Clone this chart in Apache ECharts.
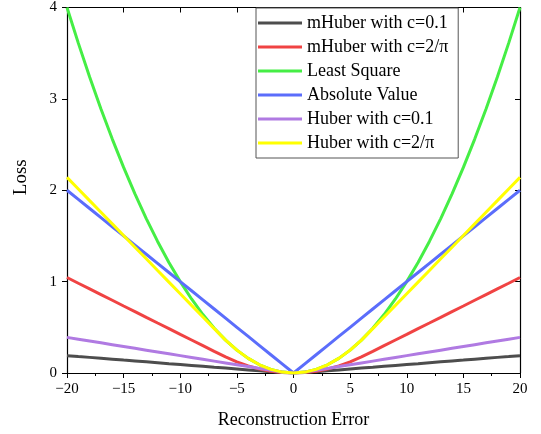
<!DOCTYPE html>
<html>
<head>
<meta charset="utf-8">
<script src="https://cdn.jsdelivr.net/npm/echarts@6/dist/echarts.min.js"></script>
<style>
  html, body { margin: 0; padding: 0; background: #fff; }
  #chart { width: 541px; height: 434px; }
</style>
</head>
<body>
<div id="chart"></div>
<script>
// Reconstruction error samples
const xs = [-20,-19,-18,-17,-16,-15,-14,-13,-12,-11,-10,-9,-8,-7,-6,-5,-4,-3,-2,-1,0,
            1,2,3,4,5,6,7,8,9,10,11,12,13,14,15,16,17,18,19,20];

const mHuber01 = [0.190,0.180,0.171,0.161,0.151,0.141,0.132,0.122,0.112,0.102,0.093,0.083,0.073,0.063,0.054,0.044,0.034,0.024,0.015,0.005,0,
                  0.005,0.015,0.024,0.034,0.044,0.054,0.063,0.073,0.083,0.093,0.102,0.112,0.122,0.132,0.141,0.151,0.161,0.171,0.180,0.190];
const mHuber2pi = [1.045,0.982,0.920,0.858,0.796,0.733,0.672,0.609,0.547,0.486,0.423,0.361,0.299,0.237,0.176,0.122,0.078,0.044,0.020,0.005,0,
                   0.005,0.020,0.044,0.078,0.122,0.176,0.237,0.299,0.361,0.423,0.486,0.547,0.609,0.672,0.733,0.796,0.858,0.920,0.982,1.045];
const leastSquare = [4,3.61,3.24,2.89,2.56,2.25,1.96,1.69,1.44,1.21,1,0.81,0.64,0.49,0.36,0.25,0.16,0.09,0.04,0.01,0,
                     0.01,0.04,0.09,0.16,0.25,0.36,0.49,0.64,0.81,1,1.21,1.44,1.69,1.96,2.25,2.56,2.89,3.24,3.61,4];
const absoluteValue = [2,1.9,1.8,1.7,1.6,1.5,1.4,1.3,1.2,1.1,1,0.9,0.8,0.7,0.6,0.5,0.4,0.3,0.2,0.1,0,
                       0.1,0.2,0.3,0.4,0.5,0.6,0.7,0.8,0.9,1,1.1,1.2,1.3,1.4,1.5,1.6,1.7,1.8,1.9,2];
const huber01 = [0.39,0.37,0.35,0.33,0.31,0.29,0.27,0.25,0.23,0.21,0.19,0.17,0.15,0.13,0.11,0.09,0.07,0.05,0.03,0.01,0,
                 0.01,0.03,0.05,0.07,0.09,0.11,0.13,0.15,0.17,0.19,0.21,0.23,0.25,0.27,0.29,0.31,0.33,0.35,0.37,0.39];
const huber2pi = [2.141,2.014,1.886,1.759,1.632,1.504,1.377,1.250,1.122,0.995,0.868,0.740,0.613,0.486,0.36,0.25,0.16,0.09,0.04,0.01,0,
                  0.01,0.04,0.09,0.16,0.25,0.36,0.486,0.613,0.740,0.868,0.995,1.122,1.250,1.377,1.504,1.632,1.759,1.886,2.014,2.141];

const seriesNames = ['mHuber with c=0.1','mHuber with c=2/\u03c0','Least Square','Absolute Value','Huber with c=0.1','Huber with c=2/\u03c0'];
const seriesValues = [mHuber01, mHuber2pi, leastSquare, absoluteValue, huber01, huber2pi];
const seriesColors = ['#4d4d4d','#f04343','#45ee45','#5b6dfb','#b07ae2','#ffff00'];

const xTicks = { min: -20, max: 20, interval: 5 };
const yTicks = { min: 0, max: 4, interval: 1 };

const FONT = "'Times New Roman', 'Liberation Serif', serif";

const chart = echarts.init(document.getElementById('chart'), null, { renderer: 'canvas' });

const axisLine = { show: true, onZero: false, lineStyle: { color: '#000', width: 1.2 } };

chart.setOption({
  animation: false,
  backgroundColor: '#fff',
  grid: { left: 67, right: 21, top: 3, bottom: 61, containLabel: false },
  legend: {
    orient: 'vertical',
    left: 256,
    top: 8,
    data: seriesNames,
    icon: 'rect',
    itemWidth: 44,
    itemHeight: 3,
    itemGap: 0,
    padding: [3, 10, 3, 2],
    borderColor: '#555',
    borderWidth: 1,
    backgroundColor: '#fff',
    textStyle: { fontFamily: FONT, fontSize: 18, color: '#000', lineHeight: 24 }
  },
  xAxis: [
    {
      type: 'value', position: 'bottom',
      min: xTicks.min, max: xTicks.max, interval: xTicks.interval,
      name: 'Reconstruction Error', nameLocation: 'middle', nameGap: 38,
      nameTextStyle: { fontFamily: FONT, fontSize: 18, color: '#000' },
      axisLine: axisLine,
      axisTick: { show: true, inside: false, length: 5, lineStyle: { color: '#000' } },
      minorTick: { show: true, splitNumber: 2, length: 3, lineStyle: { color: '#000' } },
      axisLabel: { fontFamily: FONT, fontSize: 15, color: '#000', margin: 9,
                   formatter: v => (v < 0 ? '\u2212' + Math.abs(v) : String(v)) },
      splitLine: { show: false }
    },
    {
      type: 'value', position: 'top',
      min: xTicks.min, max: xTicks.max, interval: xTicks.interval,
      axisLine: axisLine,
      axisTick: { show: true, inside: true, length: 5, lineStyle: { color: '#000' } },
      axisLabel: { show: false },
      splitLine: { show: false }
    }
  ],
  yAxis: [
    {
      type: 'value', position: 'left',
      min: yTicks.min, max: yTicks.max, interval: yTicks.interval,
      name: 'Loss', nameLocation: 'middle', nameGap: 36, nameRotate: 90,
      nameTextStyle: { fontFamily: FONT, fontSize: 19, color: '#000', padding: [0, 0, 0, 26] },
      axisLine: axisLine,
      axisTick: { show: true, inside: false, length: 5, lineStyle: { color: '#000' } },
      axisLabel: { fontFamily: FONT, fontSize: 15, color: '#000', margin: 10 },
      splitLine: { show: false }
    },
    {
      type: 'value', position: 'right',
      min: yTicks.min, max: yTicks.max, interval: yTicks.interval,
      axisLine: axisLine,
      axisTick: { show: true, inside: true, length: 5, lineStyle: { color: '#000' } },
      axisLabel: { show: false },
      splitLine: { show: false }
    }
  ],
  series: seriesNames.map((name, i) => ({
    name: name,
    type: 'line',
    xAxisIndex: 0,
    yAxisIndex: 0,
    data: xs.map((x, j) => [x, seriesValues[i][j]]),
    showSymbol: false,
    symbol: 'none',
    smooth: false,
    lineStyle: { color: seriesColors[i], width: 3 },
    itemStyle: { color: seriesColors[i] },
    emphasis: { disabled: true },
    z: 2 + i
  }))
});
</script>
</body>
</html>
